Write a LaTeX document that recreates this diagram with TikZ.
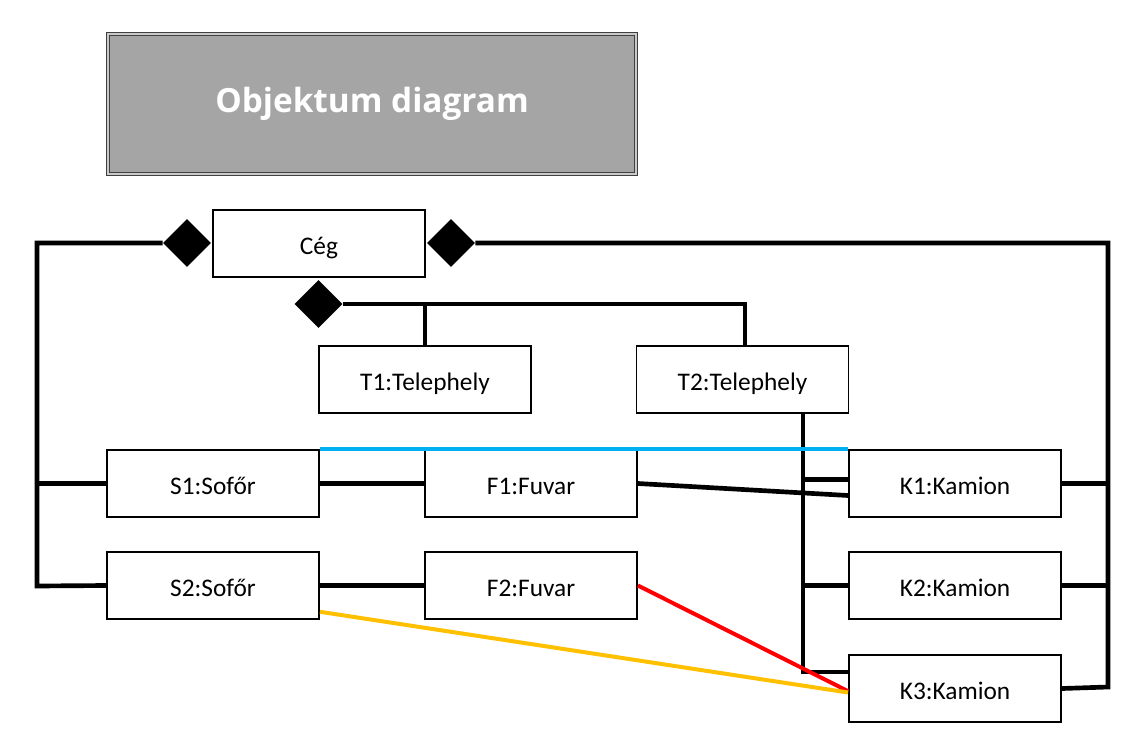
\documentclass[tikz,border=0pt]{standalone}
\usepackage{fontspec}
\setmainfont{Carlito}
\newfontfamily\titlefont{Open Sans}
\usetikzlibrary{shapes.geometric}
\definecolor{titlegray}{HTML}{A5A5A5}
\definecolor{framegray}{HTML}{404040}
\definecolor{linkblue}{HTML}{00B0F0}
\definecolor{linkorange}{HTML}{FFC000}
\tikzset{
	objbox/.style={draw, line width=1.4pt, minimum width=159pt, minimum height=50pt, inner sep=0pt, text height=16pt, text depth=0pt, font=\fontsize{19}{22}\selectfont},
	comp/.style={diamond, fill=black, minimum width=36pt, minimum height=36pt, inner sep=0pt},
	link/.style={line width=3.5pt, line join=miter},
	colorlink/.style={line width=3pt}
}
\begin{document}
\begin{tikzpicture}[x=0.75pt, y=-0.75pt]
			\useasboundingbox (0,0) rectangle (1123,735);
			\node[draw=framegray, double=titlegray!60, double distance=1pt, line width=1.1pt, fill=titlegray, minimum width=396pt, minimum height=105pt, text=white, font=\titlefont\bfseries\fontsize{25}{29}\selectfont] (title) at (372,104) {Objektum diagram};
			\node[objbox] (ceg) at (319,243.5) {Cég};
			\node[objbox] (t1) at (425,379.5) {T1:Telephely};
			\node[objbox] (t2) at (742.5,379.5) {T2:Telephely};
			\node[objbox] (s1) at (213,483.5) {S1:Sofőr};
			\node[objbox] (f1) at (531,483.5) {F1:Fuvar};
			\node[objbox] (k1) at (955,483.5) {K1:Kamion};
			\node[objbox] (s2) at (213,585.5) {S2:Sofőr};
			\node[objbox] (f2) at (531,585.5) {F2:Fuvar};
			\node[objbox] (k2) at (955,585.5) {K2:Kamion};
			\node[objbox] (k3) at (955,688.5) {K3:Kamion};
			\node[comp] (dl) at (187,243) {};
			\node[comp] (dr) at (451,243) {};
			\node[comp] (db) at (318.5,304) {};
			\coordinate (lt) at (37,243);
			\coordinate (lb) at (37,586);
			\coordinate (rt) at (1108,243);
			\coordinate (rb) at (1108,687);
			\coordinate (tt) at (745,304);
			\coordinate (td) at (803,672);
			\draw[link] (dl.west) -- (lt) -- (lb) -- (s2.west);
			\draw[link] (s1.west -| lt) -- (s1.west);
			\draw[link] (dr.east) -- (rt) -- (rb) -- (k3.east);
			\draw[link] (k1.east) -- (k1.east -| rt);
			\draw[link] (k2.east) -- (k2.east -| rt);
			\draw[link] (db.east) -- (tt) -- (tt |- t2.north);
			\draw[link] (db.east -| t1.north) -- (t1.north);
			\draw[link] (td |- t2.south) -- (td) -- (td -| k3.west);
			\draw[link] ([yshift=3pt]k1.west -| td) -- ([yshift=3pt]k1.west);
			\draw[link] (k2.west -| td) -- (k2.west);
			\draw[link] (s1.east) -- (f1.west);
			\draw[link] (s2.east) -- (f2.west);
			\draw[link] (f1.east) -- ([yshift=-9pt]k1.west);
			\draw[colorlink, linkblue] (s1.north east) -- (k1.north west);
			\draw[colorlink, red] (f2.east) -- ([yshift=-2pt]k3.west);
			\draw[colorlink, linkorange] ([yshift=6pt]s2.south east) -- ([yshift=-3pt]k3.west);
		\end{tikzpicture}
\end{document}
